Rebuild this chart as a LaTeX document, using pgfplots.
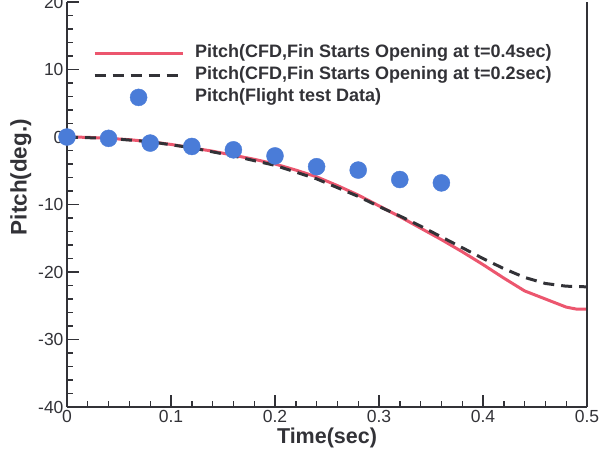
\documentclass[border=0pt]{standalone}
\usepackage{pgfplots}
\pgfplotsset{compat=1.18}
\usepackage{fontspec}
\setmainfont{Liberation Sans}
\definecolor{redc}{RGB}{236,86,110}
\definecolor{bluec}{RGB}{74,124,216}
\definecolor{darkc}{RGB}{50,50,55}
\pgfplotsset{dotlegend/.style={legend image code/.code={\draw[##1] plot coordinates {(44pt,0pt)};}}}
\begin{document}
\begin{tikzpicture}
\begin{axis}[
 name=ax, at={(0,0)}, anchor=south west,
 scale only axis, width=520pt, height=405pt,
 xmin=0, xmax=0.5, ymin=-40, ymax=20,
 axis x line*=bottom, axis y line*=left,
 xtick={0,0.1,0.2,0.3,0.4,0.5}, ytick={-40,-30,-20,-10,0,10,20},
 xticklabels={0,0.1,0.2,0.3,0.4,0.5},
 minor x tick num=4, minor y tick num=4,
 tick align=inside, tick pos=left,
 major tick length=12pt, minor tick length=6pt,
 every tick/.style={darkc, line width=1.4pt},
 axis line style={darkc, line width=2pt},
 ticklabel style={font=\fontsize{17.5}{17.5}\selectfont, text=darkc},
 /pgf/number format/assume math mode=true,
 xlabel={Time(sec)}, ylabel={Pitch(deg.)},
 xlabel style={font=\bfseries\fontsize{21.5}{21.5}\selectfont, text=darkc, yshift=2pt},
 ylabel style={font=\bfseries\fontsize{22.5}{22.5}\selectfont, text=darkc, at={(ticklabel cs:0.575)}, xshift=-3pt},
 legend style={at={(0.044,0.902)}, anchor=north west, draw=none, fill=none,
   font=\bfseries\fontsize{18}{18}\selectfont, text=darkc, row sep=3pt, column sep=10pt,
   nodes={inner sep=1pt, text height=13pt, text depth=4pt}},
 legend cell align=left,
 legend image code/.code={\draw[#1] (0pt,0pt) -- (88pt,0pt);},
]
\addplot[redc, line width=3pt] coordinates {
(0,0) (0.02,-0.05) (0.04,-0.2) (0.06,-0.4) (0.08,-0.7) (0.1,-1.1) (0.12,-1.6)
(0.14,-2.1) (0.16,-2.7) (0.18,-3.3) (0.2,-4.0) (0.22,-4.9) (0.24,-5.9)
(0.26,-7.2) (0.28,-8.6) (0.3,-10.2) (0.32,-11.8) (0.34,-13.5) (0.36,-15.2)
(0.38,-17.0) (0.4,-18.9) (0.42,-20.9) (0.44,-22.8) (0.46,-24.0) (0.48,-25.2)
(0.49,-25.5) (0.5,-25.5)};
\addlegendentry{Pitch(CFD,Fin Starts Opening at t=0.4sec)}
\addplot[darkc, line width=3pt, dash pattern=on 11pt off 7pt] coordinates {
(0,0) (0.04,-0.2) (0.08,-0.7) (0.12,-1.6) (0.16,-2.8) (0.2,-4.2) (0.24,-6.2)
(0.28,-8.8) (0.3,-10.3) (0.32,-11.7) (0.34,-13.2) (0.36,-14.8) (0.38,-16.4)
(0.4,-18.0) (0.42,-19.5) (0.44,-20.8) (0.46,-21.7) (0.48,-22.1) (0.5,-22.2)};
\addlegendentry{Pitch(CFD,Fin Starts Opening at t=0.2sec)}
\addplot[only marks, mark=*, mark size=8.5pt, bluec, mark options={draw=bluec, fill=bluec},
  dotlegend] coordinates {
(0,0) (0.04,-0.2) (0.08,-0.9) (0.12,-1.4) (0.16,-1.9) (0.2,-2.8) (0.24,-4.4)
(0.28,-4.9) (0.32,-6.3) (0.36,-6.8)};
\addlegendentry{Pitch(Flight test Data)}
\end{axis}
\draw[darkc, line width=2pt] (ax.south east) -- (ax.north east);
\pgfresetboundingbox
\path[use as bounding box] (-67pt,-43pt) rectangle (537pt,407pt);
\end{tikzpicture}
\end{document}
